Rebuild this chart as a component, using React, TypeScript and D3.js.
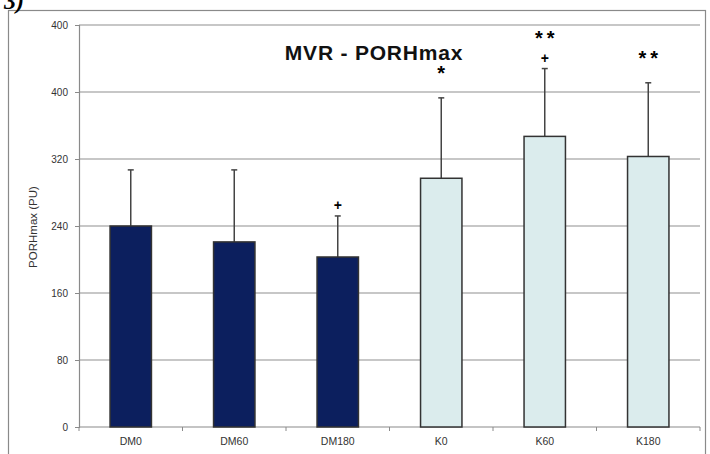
import { useRef, useEffect } from 'react';
import * as d3 from 'd3';

const categories = ['DM0', 'DM60', 'DM180', 'K0', 'K60', 'K180'];
const means = [240, 221, 203, 297, 347, 323];
const sds = [67, 86, 49, 96, 81, 88];
const groups = ['DM', 'DM', 'DM', 'K', 'K', 'K'];
const yTicks = [0, 80, 160, 240, 320, 400, 480];
const yTickLabels = ['0', '80', '160', '240', '320', '400', '400'];
// significance marks above each bar
const stars = ['', '', '', '*', '**', '**'];
const plus = ['', '', '+', '', '+', ''];

export default function App() {
  const svgRef = useRef<SVGSVGElement>(null);

  useEffect(() => {
    const svg = d3.select(svgRef.current);
    svg.selectAll('*').remove();

    const W = 710, H = 454;
    const margin = { top: 25, left: 79 };
    const w = 700 - margin.left;
    const h = 427 - margin.top;
    const font = 'Arial, "Liberation Sans", sans-serif';

    svg.append('rect').attr('width', W).attr('height', H).attr('fill', '#fff');

    // outer frame
    svg.append('rect')
      .attr('x', 8.5).attr('y', 10.5).attr('width', 697).attr('height', 470)
      .attr('fill', 'none').attr('stroke', '#8a8a8a').attr('stroke-width', 1.2);

    svg.append('text')
      .attr('x', 4).attr('y', 9)
      .attr('font-family', '"Liberation Serif", serif')
      .attr('font-style', 'italic').attr('font-weight', 'bold')
      .attr('font-size', 24).attr('fill', '#000')
      .text('3)');

    const g = svg.append('g').attr('transform', `translate(${margin.left},${margin.top})`);

    const x = d3.scaleBand().domain(categories).range([0, w]).paddingInner(0.6).paddingOuter(0.3);
    const y = d3.scaleLinear().domain([0, 480]).range([h, 0]);
    const cx = (d: string) => x(d)! + x.bandwidth() / 2;

    // gridlines
    g.selectAll('line.grid')
      .data(yTicks.slice(1))
      .join('line')
      .attr('class', 'grid')
      .attr('x1', 0).attr('x2', w)
      .attr('y1', d => y(d)).attr('y2', d => y(d))
      .attr('stroke', '#b4b4b4').attr('stroke-width', 1.5);

    // Y axis
    const yAxis = g.append('g')
      .call(d3.axisLeft(y).tickValues(yTicks).tickSize(4).tickPadding(7)
        .tickFormat((_d, i) => yTickLabels[i]));
    yAxis.select('.domain').attr('stroke', '#8a8a8a').attr('stroke-width', 1.2);
    yAxis.selectAll('line').attr('stroke', '#8a8a8a');
    yAxis.selectAll('text').attr('fill', '#333')
      .style('font-family', font).style('font-size', '10px');

    // X axis
    const step = w / categories.length;
    const xAxis = g.append('g').attr('transform', `translate(0,${h})`);
    xAxis.append('line').attr('x1', 0).attr('x2', w).attr('stroke', '#8a8a8a').attr('stroke-width', 1.2);
    xAxis.selectAll('line.tick')
      .data(d3.range(categories.length + 1))
      .join('line')
      .attr('class', 'tick')
      .attr('x1', i => i * step).attr('x2', i => i * step)
      .attr('y1', 0).attr('y2', 4)
      .attr('stroke', '#8a8a8a');
    xAxis.selectAll('text')
      .data(categories)
      .join('text')
      .attr('x', cx)
      .attr('y', 18)
      .attr('text-anchor', 'middle')
      .attr('fill', '#333')
      .style('font-family', font).style('font-size', '10.5px')
      .text(d => d);

    // error bars
    g.selectAll('line.err')
      .data(categories)
      .join('line')
      .attr('class', 'err')
      .attr('x1', cx).attr('x2', cx)
      .attr('y1', (_d, i) => y(means[i])).attr('y2', (_d, i) => y(means[i] + sds[i]))
      .attr('stroke', '#444').attr('stroke-width', 1.5);
    g.selectAll('line.cap')
      .data(categories)
      .join('line')
      .attr('class', 'cap')
      .attr('x1', d => cx(d) - 3).attr('x2', d => cx(d) + 3)
      .attr('y1', (_d, i) => y(means[i] + sds[i])).attr('y2', (_d, i) => y(means[i] + sds[i]))
      .attr('stroke', '#444').attr('stroke-width', 1.5);

    // bars
    g.selectAll('rect.bar')
      .data(categories)
      .join('rect')
      .attr('class', 'bar')
      .attr('x', d => x(d)!)
      .attr('y', (_d, i) => y(means[i]))
      .attr('width', x.bandwidth())
      .attr('height', (_d, i) => h - y(means[i]))
      .attr('fill', (_d, i) => groups[i] === 'DM' ? '#0c1f5e' : '#dbeced')
      .attr('stroke', '#333').attr('stroke-width', 1.5);

    // significance marks
    const errTop = (i: number) => y(means[i] + sds[i]);
    categories.forEach((d, i) => {
      let base = errTop(i);
      if (plus[i]) {
        base -= 6;
        g.append('text')
          .attr('x', cx(d)).attr('y', base)
          .attr('text-anchor', 'middle')
          .style('font-family', font)
          .style('font-size', '14px').style('font-weight', 'bold')
          .text('+');
      }
      if (stars[i]) {
        g.append('text')
          .attr('x', cx(d) + 2).attr('y', base - 18)
          .attr('text-anchor', 'middle')
          .style('font-family', font)
          .style('font-size', '20px').style('font-weight', 'bold')
          .style('letter-spacing', '4px')
          .text(stars[i]);
      }
    });

    // title
    svg.append('text')
      .attr('x', 374).attr('y', 60)
      .attr('text-anchor', 'middle')
      .style('font-family', font)
      .style('font-size', '21px').style('font-weight', 'bold')
      .style('letter-spacing', '0.8px')
      .attr('fill', '#111')
      .text('MVR - PORHmax');

    // y label
    svg.append('text')
      .attr('transform', 'translate(37,227) rotate(-90)')
      .attr('text-anchor', 'middle')
      .style('font-family', font)
      .style('font-size', '11.5px')
      .attr('fill', '#333')
      .text('PORHmax (PU)');
  }, []);

  return (
    <svg ref={svgRef} width={710} height={454}
      style={{ position: 'absolute', left: 0, top: 0, display: 'block' }} />
  );
}
